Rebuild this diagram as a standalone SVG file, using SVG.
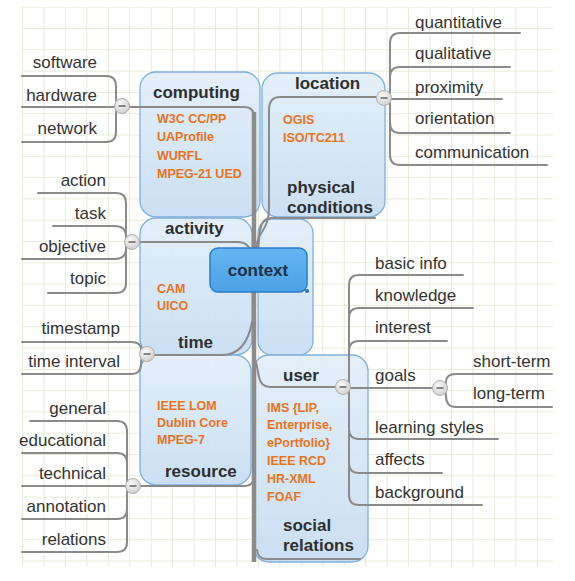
<svg xmlns="http://www.w3.org/2000/svg" width="575" height="581" viewBox="0 0 575 581">
<defs>
<style>
.lbl{font-family:"Liberation Sans",Arial,sans-serif;font-size:17px;fill:#333}
.end{text-anchor:end}
.ttl{font-family:"Liberation Sans",Arial,sans-serif;font-size:17px;font-weight:bold;fill:#2e2e2e}
.std{font-family:"Liberation Sans",Arial,sans-serif;font-size:12.5px;font-weight:bold;fill:#e8731e}
.box{fill:url(#boxg);stroke:#7fb0dc;stroke-width:1.3}
.con{fill:none;stroke:#8a8a8a;stroke-width:2;stroke-linecap:round}
.trunk{fill:none;stroke:#8c8c8c;stroke-width:4.5}
.tog{fill:url(#togg);stroke:#b0b0b0;stroke-width:1}
.minus{stroke:#6a6a6a;stroke-width:1.6}
</style>
<linearGradient id="boxg" x1="0" y1="0" x2="0" y2="1">
<stop offset="0" stop-color="#e2eef9" stop-opacity="0.92"/>
<stop offset="1" stop-color="#c6ddf2" stop-opacity="0.92"/>
</linearGradient>
<linearGradient id="ctxg" x1="0" y1="0" x2="0" y2="1">
<stop offset="0" stop-color="#66b6f2"/>
<stop offset="1" stop-color="#4aa2e6"/>
</linearGradient>
<radialGradient id="togg" cx="0.4" cy="0.35" r="0.7">
<stop offset="0" stop-color="#fafafa"/>
<stop offset="1" stop-color="#cdcdcd"/>
</radialGradient>
<pattern id="grid" x="22" y="6.7" width="21.45" height="21.3" patternUnits="userSpaceOnUse">
<path d="M0,0.5 H21.45 M0.5,0 V21.3" fill="none" stroke="#e8ebda" stroke-width="1"/>
</pattern>
</defs>
<rect width="575" height="581" fill="#ffffff"/>
<rect x="22" y="6.7" width="531" height="560" fill="url(#grid)"/>

<g id="computing"><rect class="box" x="140" y="72" width="120" height="145" rx="16"/>
<text class="ttl" x="153" y="98">computing</text>
<text class="std" x="157" y="122.5">W3C CC/PP</text>
<text class="std" x="157" y="141">UAProfile</text>
<text class="std" x="157" y="159.5">WURFL</text>
<text class="std" x="157" y="177.5">MPEG-21 UED</text></g>

<g id="location"><rect class="box" x="262" y="73" width="123" height="144" rx="16"/>
<text class="ttl" x="295" y="89">location</text>
<text class="std" x="283" y="123.5">OGIS</text>
<text class="std" x="283" y="141.5">ISO/TC211</text>
<text class="ttl" x="287" y="193">physical</text>
<text class="ttl" x="287" y="213">conditions</text></g>

<g id="activity"><rect class="box" x="140" y="218" width="112" height="137" rx="16"/>
<text class="ttl" x="165" y="234">activity</text>
<text class="std" x="157" y="292.5">CAM</text>
<text class="std" x="157" y="309.5">UICO</text>
<text class="ttl" x="178" y="348">time</text></g>

<g id="middle-right"><rect class="box" x="258" y="219" width="55" height="136" rx="14"/></g>

<g id="resource"><rect class="box" x="140" y="355" width="111" height="130" rx="16"/>
<text class="std" x="157" y="409.5">IEEE LOM</text>
<text class="std" x="157" y="426.5">Dublin Core</text>
<text class="std" x="157" y="443.5">MPEG-7</text>
<text class="ttl" x="165" y="477">resource</text></g>

<g id="user"><rect class="box" x="253" y="355" width="115" height="207" rx="16"/>
<text class="ttl" x="283" y="381">user</text>
<text class="std" x="267" y="411.5">IMS {LIP,</text>
<text class="std" x="267" y="429">Enterprise,</text>
<text class="std" x="267" y="447">ePortfolio}</text>
<text class="std" x="267" y="465">IEEE RCD</text>
<text class="std" x="267" y="483">HR-XML</text>
<text class="std" x="267" y="501">FOAF</text>
<text class="ttl" x="283" y="531">social</text>
<text class="ttl" x="283" y="551">relations</text></g>

<g id="connectors">
<path class="trunk" d="M254,112 V562"/>
<path class="con" d="M129,107 H244 Q254,107 254,117"/>
<path class="con" d="M378,97 H280 Q269,97 269,110 V208 Q269,222 262,232 Q256,240 256,252"/>
<path class="con" d="M375,218 H272 Q262,218 260,230 L257,262"/>
<path class="con" d="M139,242 H238 Q250,242 253,258"/>
<path class="con" d="M154,355 H222 Q246,355 252,322"/>
<path class="con" d="M140,486 H244 Q254,486 254,476"/>
<path class="con" d="M336,387 H270 Q261,387 259,377 L256,362"/>
<path class="con" d="M360,559 H266 Q258,559 257,550"/>

<path class="con" d="M384,98 Q390,98 390,90 V43 Q390,33 400,33 H520"/>
<path class="con" d="M384,98 Q390,98 390,90 V77 Q390,67 400,67 H510"/>
<path class="con" d="M391,99 H502"/>
<path class="con" d="M384,98 Q390,98 390,106 V123 Q390,133 400,133 H510"/>
<path class="con" d="M384,98 Q390,98 390,106 V155 Q390,165 400,165 H547"/>

<path class="con" d="M22,76 H106 Q116,76 116,86 V98 Q116,106 122,106"/>
<path class="con" d="M22,107 H115"/>
<path class="con" d="M22,142 H106 Q116,142 116,132 V114 Q116,106 122,106"/>

<path class="con" d="M38,193 H116 Q126,193 126,203 V234 Q126,242 132,242"/>
<path class="con" d="M53,226 H114 Q126,226 126,236 Q126,242 132,242"/>
<path class="con" d="M22,259 H114 Q126,259 126,249 Q126,242 132,242"/>
<path class="con" d="M48,293 H116 Q126,293 126,283 V250 Q126,242 132,242"/>

<path class="con" d="M22,342 H131 Q141,342 141,349 Q141,354 147,354"/>
<path class="con" d="M22,374 H131 Q141,374 141,364 Q141,354 147,354"/>

<path class="con" d="M30,421 H117 Q127,421 127,431 V478 Q127,486 133,486"/>
<path class="con" d="M22,453 H117 Q127,453 127,463 V478 Q127,486 133,486"/>
<path class="con" d="M22,486 H126"/>
<path class="con" d="M22,519 H117 Q127,519 127,509 V494 Q127,486 133,486"/>
<path class="con" d="M22,552 H117 Q127,552 127,542 V494 Q127,486 133,486"/>

<path class="con" d="M343,387 Q349,387 349,379 V285 Q349,275 359,275 H463"/>
<path class="con" d="M343,387 Q349,387 349,379 V318 Q349,308 359,308 H473"/>
<path class="con" d="M343,387 Q349,387 349,379 V351 Q349,341 359,341 H447"/>
<path class="con" d="M350,388 H433"/>
<path class="con" d="M343,387 Q349,387 349,395 V429 Q349,439 359,439 H498"/>
<path class="con" d="M343,387 Q349,387 349,395 V463 Q349,473 359,473 H442"/>
<path class="con" d="M343,387 Q349,387 349,395 V495 Q349,505 359,505 H482"/>

<path class="con" d="M440,388 Q446,388 446,382 Q446,374 456,374 H552"/>
<path class="con" d="M440,388 Q446,388 446,396 Q446,407 456,407 H552"/>
</g>

<g id="toggles">
<circle class="tog" cx="122" cy="106" r="7.5"/><path class="minus" d="M118.5,106 H125.5"/>
<circle class="tog" cx="384" cy="98" r="7.5"/><path class="minus" d="M380.5,98 H387.5"/>
<circle class="tog" cx="132" cy="242" r="7.5"/><path class="minus" d="M128.5,242 H135.5"/>
<circle class="tog" cx="147" cy="354" r="7.5"/><path class="minus" d="M143.5,354 H150.5"/>
<circle class="tog" cx="133" cy="486" r="7.5"/><path class="minus" d="M129.5,486 H136.5"/>
<circle class="tog" cx="343" cy="387" r="7.5"/><path class="minus" d="M339.5,387 H346.5"/>
<circle class="tog" cx="440" cy="388" r="7.5"/><path class="minus" d="M436.5,388 H443.5"/>
</g>

<g id="context"><rect x="210" y="248" width="97" height="44" rx="8" fill="url(#ctxg)" stroke="#2c7cc6" stroke-width="1.5"/>
<circle cx="307" cy="291" r="2" fill="#2c6fc0"/>
<text class="ttl" x="258" y="276" text-anchor="middle" fill="#1e2f40" style="fill:#1e2f40">context</text></g>

<g id="software"><text class="lbl end" x="97" y="68">software</text></g>
<g id="hardware"><text class="lbl end" x="97" y="101">hardware</text></g>
<g id="network"><text class="lbl end" x="97" y="134">network</text></g>
<g id="action"><text class="lbl end" x="106" y="186">action</text></g>
<g id="task"><text class="lbl end" x="106" y="219">task</text></g>
<g id="objective"><text class="lbl end" x="106" y="252">objective</text></g>
<g id="topic"><text class="lbl end" x="106" y="284">topic</text></g>
<g id="timestamp"><text class="lbl end" x="120" y="334">timestamp</text></g>
<g id="time-interval"><text class="lbl end" x="120" y="367">time interval</text></g>
<g id="general"><text class="lbl end" x="106" y="414">general</text></g>
<g id="educational"><text class="lbl end" x="106" y="446">educational</text></g>
<g id="technical"><text class="lbl end" x="106" y="479">technical</text></g>
<g id="annotation"><text class="lbl end" x="106" y="512">annotation</text></g>
<g id="relations"><text class="lbl end" x="106" y="545">relations</text></g>
<g id="quantitative"><text class="lbl" x="415" y="28">quantitative</text></g>
<g id="qualitative"><text class="lbl" x="415" y="59">qualitative</text></g>
<g id="proximity"><text class="lbl" x="415" y="93">proximity</text></g>
<g id="orientation"><text class="lbl" x="415" y="124">orientation</text></g>
<g id="communication"><text class="lbl" x="415" y="158">communication</text></g>
<g id="basic-info"><text class="lbl" x="375" y="269">basic info</text></g>
<g id="knowledge"><text class="lbl" x="375" y="301">knowledge</text></g>
<g id="interest"><text class="lbl" x="375" y="333">interest</text></g>
<g id="goals"><text class="lbl" x="375" y="381">goals</text></g>
<g id="short-term"><text class="lbl" x="473" y="367">short-term</text></g>
<g id="long-term"><text class="lbl" x="473" y="399">long-term</text></g>
<g id="learning-styles"><text class="lbl" x="375" y="433">learning styles</text></g>
<g id="affects"><text class="lbl" x="375" y="465">affects</text></g>
<g id="background"><text class="lbl" x="375" y="498">background</text></g>
</svg>
